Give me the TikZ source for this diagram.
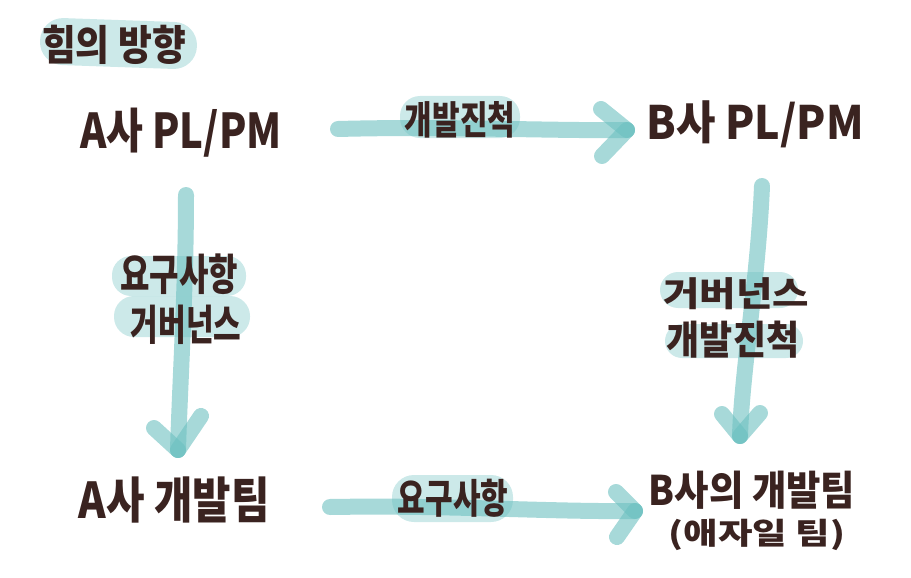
\documentclass[tikz,border=0pt]{standalone}
\usepackage{fontspec}
\setmainfont{Noto Sans CJK KR}
\definecolor{tealzero}{HTML}{6CC0C0}
\definecolor{ink}{HTML}{3A2320}
\newcommand{\fsz}[1]{\bfseries\fontsize{#1}{#1}\selectfont}
\newcommand{\strt}[3]{\scalebox{#1}[#2]{#3}}
\begin{document}
\begin{tikzpicture}[x=1pt,y=-1pt,
  arr/.style={line width=16pt, line cap=round, draw=tealzero, draw opacity=0.6},
  hl/.style={fill=tealzero, fill opacity=0.35},
  txt/.style={text=ink, inner sep=0pt}]
\useasboundingbox (0,0) rectangle (911,578);
% highlights
\fill[hl, rounded corners=23pt, rotate around={-2:(118,43)}] (40,20) rectangle (197,67);
\fill[hl, rounded corners=20pt] (400,96) rectangle (520,138);
\fill[hl, rounded corners=22pt] (392,475) rectangle (513,522);
\fill[hl, rounded corners=19pt] (112,256) rectangle (246,296);
\fill[hl, rounded corners=20pt] (114,296) rectangle (250,337);
\fill[hl, rounded corners=18pt] (660,272) rectangle (798,308);
\fill[hl, rounded corners=17pt] (665,324) rectangle (803,358);
% coordinates for connectors
\coordinate (t1) at (338,129);
\coordinate (t2) at (627,130);
\coordinate (t2a) at (601,109);
\coordinate (t2b) at (602,156);
\coordinate (b1) at (330,507);
\coordinate (b2) at (635,511);
\coordinate (b2a) at (616,492);
\coordinate (b2b) at (617,537);
\coordinate (l1) at (186,195);
\coordinate (l2) at (178,450);
\coordinate (l2a) at (154,428);
\coordinate (l2b) at (201,416);
\coordinate (r1) at (762,186);
\coordinate (r2) at (740,436);
\coordinate (r2a) at (722,414);
\coordinate (r2b) at (760,413);
% arrows
\draw[arr] (t1) .. controls (450,126) and (550,131) .. (t2);
\draw[arr] (t2a) -- (t2);
\draw[arr] (t2b) -- (t2);
\draw[arr] (b1) .. controls (450,505) and (550,512) .. (b2);
\draw[arr] (b2a) -- (b2);
\draw[arr] (b2b) -- (b2);
\draw[arr] (l1) .. controls (186,290) and (180,380) .. (l2);
\draw[arr] (l2a) -- (l2);
\draw[arr] (l2b) -- (l2);
\draw[arr] (r1) .. controls (758,280) and (742,370) .. (r2);
\draw[arr] (r2a) -- (r2);
\draw[arr] (r2b) -- (r2);
% texts
\node[txt, font=\fsz{32}] (title) at (114,45) {\strt{1.15}{1.3}{힘의 방향}};
\node[txt, font=\fsz{40}] (apm) at (181,133) {\strt{1}{1.2}{A사 PL/PM}};
\node[txt, font=\fsz{40}] (bpm) at (755,124) {\strt{1.07}{1.15}{B사 PL/PM}};
\node[txt, font=\fsz{38}] (ateam) at (174,500) {\strt{1.1}{1.3}{A사 개발팀}};
\node[txt, font=\fsz{34}] (bteam) at (752,490) {\strt{1.1}{1.2}{B사의 개발팀}};
\node[txt, font=\fsz{30}] (agile) at (757,535) {\strt{1.25}{1}{(애자일 팀)}};
\node[txt, font=\fsz{30}] (lt) at (460,120) {\strt{1}{1.3}{개발진척}};
\node[txt, font=\fsz{30}] (lb) at (453,498) {\strt{1}{1.35}{요구사항}};
\node[txt, font=\fsz{32}] (ll1) at (179,274) {\strt{1}{1.35}{요구사항}};
\node[txt, font=\fsz{30}] (ll2) at (186,325) {\strt{1}{1.4}{거버넌스}};
\node[txt, font=\fsz{36}] (lr1) at (736,294) {\strt{1.1}{0.95}{거버넌스}};
\node[txt, font=\fsz{36}] (lr2) at (733,340) {\strt{1}{1.1}{개발진척}};
\end{tikzpicture}
\end{document}
